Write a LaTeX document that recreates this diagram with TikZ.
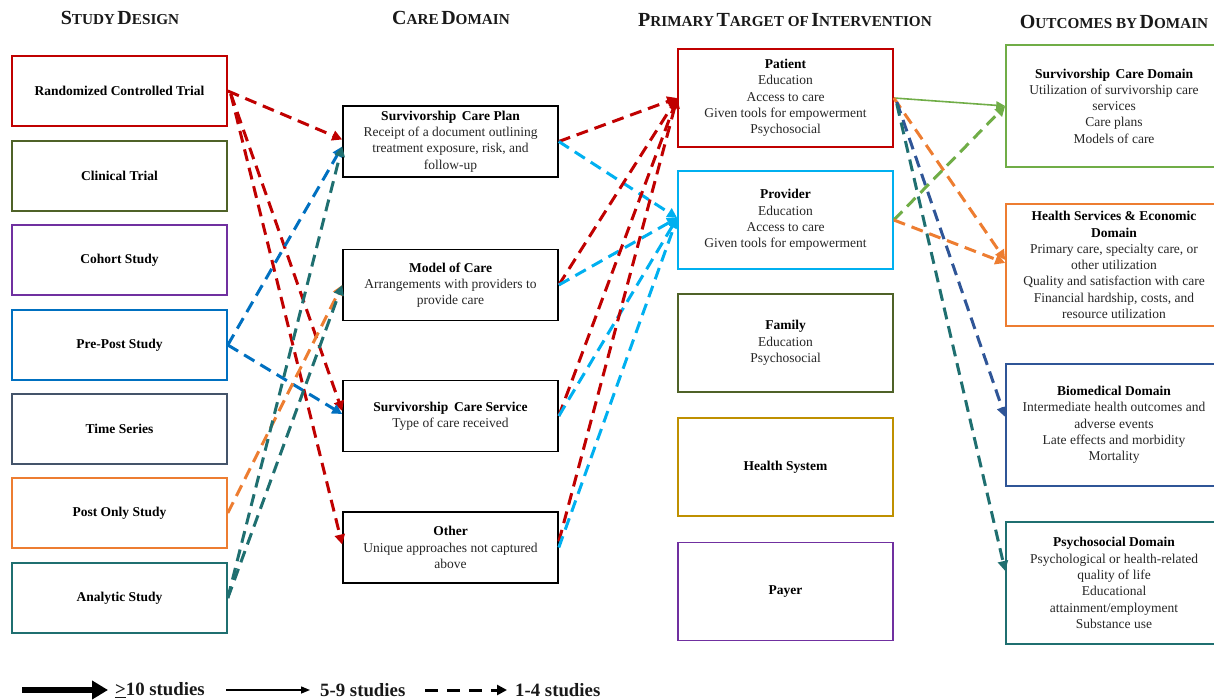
\documentclass[tikz,border=0pt]{standalone}
\usepackage{fontspec}
\setmainfont{Liberation Serif}
\usetikzlibrary{arrows.meta,calc}
\definecolor{cRed}{HTML}{C00000}
\definecolor{cDGreen}{HTML}{4F6228}
\definecolor{cPurple}{HTML}{7030A0}
\definecolor{cBlue}{HTML}{0070C0}
\definecolor{cSlate}{HTML}{44546A}
\definecolor{cOrange}{HTML}{ED7D31}
\definecolor{cTeal}{HTML}{1F6F70}
\definecolor{cCyan}{HTML}{00B0F0}
\definecolor{cGold}{HTML}{BF9000}
\definecolor{cGreen}{HTML}{70AD47}
\definecolor{cNavy}{HTML}{2F5597}
\definecolor{cText}{HTML}{262626}
\newcommand{\BC}[1]{{\fontsize{20}{22}\selectfont #1}}
\newcommand{\SC}[1]{{\fontsize{15.2}{22}\selectfont #1}}
\begin{document}
\begin{tikzpicture}[x=1pt,y=-1pt,
 box/.style={draw, line width=1.6pt, minimum width=215pt, inner sep=2pt, align=center, text=cText, font=\fontsize{13.5}{16.3}\selectfont},
 sbox/.style={box, minimum height=70pt, font=\bfseries\fontsize{13.5}{16}\selectfont, text=black},
 cbox/.style={box, draw=black, minimum height=71pt},
 tbox/.style={box, minimum height=98pt},
 obox/.style={box, minimum height=122pt, minimum width=216pt},
 hdr/.style={font=\bfseries, text=black!90, inner sep=0pt},
 darr/.style={line width=3pt, dash pattern=on 12pt off 7pt, -{Triangle[length=10pt,width=10pt]}},
 sarr/.style={line width=1.6pt, -{Triangle[length=9pt,width=8pt]}},
 legt/.style={font=\bfseries\fontsize{18.8}{20}\selectfont, anchor=west, inner sep=0pt, text=black!90},
]
\clip (0,0) rectangle (1214,700);
% headers
\node[hdr] (h1) at (120,18) {\BC{S}\SC{TUDY} \BC{D}\SC{ESIGN}};
\node[hdr] (h2) at (451,18) {\BC{C}\SC{ARE} \BC{D}\SC{OMAIN}};
\node[hdr] (h3) at (785,20) {\BC{P}\SC{RIMARY} \BC{T}\SC{ARGET OF} \BC{I}\SC{NTERVENTION}};
\node[hdr] (h4) at (1114,22) {\BC{O}\SC{UTCOMES BY} \BC{D}\SC{OMAIN}};
% study design
\node[sbox, draw=cRed] (rct) at (119.5,91) {Randomized Controlled Trial};
\node[sbox, draw=cDGreen] (ct) at (119.5,176) {Clinical Trial};
\node[sbox, draw=cPurple] (coh) at (119.5,260) {Cohort Study};
\node[sbox, draw=cBlue] (pp) at (119.5,345) {Pre-Post Study};
\node[sbox, draw=cSlate] (ts) at (119.5,429) {Time Series};
\node[sbox, draw=cOrange] (po) at (119.5,513) {Post Only Study};
\node[sbox, draw=cTeal] (an) at (119.5,598) {Analytic Study};
% care domain
\node[cbox] (scp) at (450.5,141.5) {\textbf{\color{black}Survivorship\, Care Plan}\\Receipt of a document outlining\\treatment exposure, risk, and\\follow-up};
\node[cbox] (moc) at (450.5,285) {\textbf{\color{black}Model of Care}\\Arrangements with providers to\\provide care};
\node[cbox] (scs) at (450.5,416) {\textbf{\color{black}Survivorship\, Care Service}\\Type of care received};
\node[cbox] (oth) at (450.5,547.5) {\textbf{\color{black}Other}\\Unique approaches not captured\\above};
% primary target
\node[tbox, draw=cRed] (pat) at (785.5,98) {\textbf{\color{black}Patient}\\Education\\Access to care\\Given tools for empowerment\\Psychosocial};
\node[tbox, draw=cCyan] (prov) at (785.5,220) {\textbf{\color{black}Provider}\\Education\\Access to care\\Given tools for empowerment};
\node[tbox, draw=cDGreen] (fam) at (785.5,343) {\textbf{\color{black}Family}\\Education\\Psychosocial};
\node[tbox, draw=cGold] (hs) at (785.5,467) {\textbf{\color{black}Health System}};
\node[tbox, draw=cPurple] (pay) at (785.5,591.5) {\textbf{\color{black}Payer}};
% outcomes
\node[obox, draw=cGreen] (scd) at (1114,106) {\textbf{\color{black}Survivorship\, Care Domain}\\Utilization of survivorship care\\services\\Care plans\\Models of care};
\node[obox, draw=cOrange] (hse) at (1114,265) {\textbf{\color{black}Health Services \& Economic}\\\textbf{\color{black}Domain}\\Primary care, specialty care, or\\other utilization\\Quality and satisfaction with care\\Financial hardship, costs, and\\resource utilization};
\node[obox, draw=cNavy] (bio) at (1114,425) {\textbf{\color{black}Biomedical Domain}\\Intermediate health outcomes and\\adverse events\\Late effects and morbidity\\Mortality};
\node[obox, draw=cTeal] (psy) at (1114,583) {\textbf{\color{black}Psychosocial Domain}\\Psychological or health-related\\quality of life\\Educational\\attainment/employment\\Substance use};
% study design -> care domain
\draw[darr, cRed] (rct.east) -- ($(scp.west)+(0,-2)$);
\draw[darr, cRed] ($(rct.east)+(3,3)$) -- ($(scs.west)+(0,-5)$);
\draw[darr, cRed] ($(rct.east)+(3,3)$) -- ($(oth.west)+(0,-3)$);
\draw[darr, cBlue] (pp.east) -- ($(scp.west)+(0,5)$);
\draw[darr, cBlue] (pp.east) -- ($(scs.west)+(0,-2)$);
\draw[darr, cOrange] (po.east) -- (moc.west);
\draw[darr, cTeal] (an.east) -- ($(scp.west)+(0,5)$);
\draw[darr, cTeal] (an.east) -- (moc.west);
% care domain -> target
\draw[darr, cRed] (scp.east) -- (pat.west);
\draw[darr, cCyan] (scp.east) -- ($(prov.west)+(0,-2)$);
\draw[darr, cRed] (moc.east) -- (pat.west);
\draw[darr, cCyan] (moc.east) -- ($(prov.west)+(0,-2)$);
\draw[darr, cRed] (scs.east) -- (pat.west);
\draw[darr, cCyan] (scs.east) -- ($(prov.west)+(0,-2)$);
\draw[darr, cRed] ($(oth.east)+(0,-6)$) -- (pat.west);
\draw[darr, cCyan] (oth.east) -- ($(prov.west)+(0,-2)$);
% target -> outcomes
\draw[sarr, cGreen] (pat.east) -- (scd.west);
\draw[darr, cOrange] (pat.east) -- ($(hse.west)+(0,-5)$);
\draw[darr, cNavy] ($(pat.east)+(3,4)$) -- ($(bio.west)+(0,-8)$);
\draw[darr, cTeal] ($(pat.east)+(3,6)$) -- ($(psy.west)+(0,-12)$);
\draw[darr, cGreen] (prov.east) -- (scd.west);
\draw[darr, cOrange] (prov.east) -- ($(hse.west)+(0,-2)$);
% legend
\coordinate (l1a) at (22,690);
\coordinate (l1b) at (108,690);
\draw[line width=6pt, -{Triangle[length=16pt,width=18pt]}] (l1a) -- (l1b);
\node[legt] (l1t) at (115,690) {\underline{>}10 studies};
\coordinate (l2a) at (226,690);
\coordinate (l2b) at (310,690);
\draw[line width=1.4pt, -{Triangle[length=9pt,width=7pt]}] (l2a) -- (l2b);
\node[legt] (l2t) at (320,690) {5-9 studies};
\coordinate (l3a) at (425,690);
\coordinate (l3b) at (507,690);
\draw[line width=3pt, dash pattern=on 13pt off 9pt, -{Triangle[length=10pt,width=10pt]}] (l3a) -- (l3b);
\node[legt] (l3t) at (515,690) {1-4 studies};
\end{tikzpicture}
\end{document}
